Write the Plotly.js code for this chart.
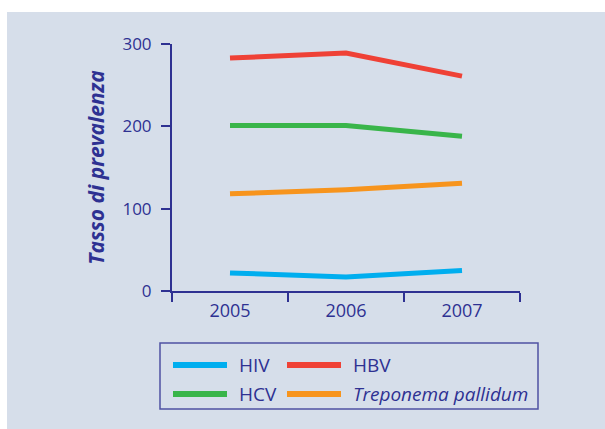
<!DOCTYPE html>
<html>
<head>
<meta charset="utf-8">
<script src="https://cdn.plot.ly/plotly-3.0.1.min.js"></script>
<style>html,body{margin:0;padding:0;background:#fff;}#chart{width:605px;height:429px;}</style>
</head>
<body>
<div id="chart"></div>
<script>
// ---- data ----
const years = ["2005", "2006", "2007"];
const seriesNames = ["HIV", "HBV", "HCV", "Treponema pallidum"];
const hiv = [22, 17, 25];
const hbv = [283, 289, 261];
const hcv = [201, 201, 188];
const treponema = [118, 123, 131];
const yTicks = [0, 100, 200, 300];
const colors = ["#00aeef", "#ef4136", "#39b54a", "#f7941d"];

const values = [hiv, hbv, hcv, treponema];
const navy = "#2e3192";
const font = "'Open Sans', 'Noto Sans', sans-serif";

// plot-area geometry (pixels)
const W = 605, H = 429, L = 172, R = 85, T = 44, B = 138;
const pw = W - L - R, ph = H - T - B;
const px = x => (x - L) / pw;
const py = y => (H - B - y) / ph;

const traces = values.map((v, i) => ({
  type: "scatter", mode: "lines", x: years, y: v, name: seriesNames[i],
  line: {color: colors[i], width: 5}, showlegend: false, hoverinfo: "x+y+name"
}));

const shapes = [
  {type: "rect", xref: "paper", yref: "paper", layer: "below",
   x0: px(7), x1: px(606), y0: py(430), y1: py(12),
   fillcolor: "#d6deea", line: {width: 0}},
  {type: "rect", xref: "paper", yref: "paper",
   x0: px(160), x1: px(538), y0: py(409), y1: py(343),
   fillcolor: "rgba(0,0,0,0)", line: {color: "#4f52a3", width: 1.5}}
];
const annotations = [];
// custom legend: 2 columns x 2 rows, built from series names
const colX = [173, 287], rowY = [365, 394], keyLen = 54, textGap = 10;
seriesNames.forEach((name, i) => {
  const c = i % 2, r = Math.floor(i / 2);
  shapes.push({type: "line", xref: "paper", yref: "paper",
    x0: px(colX[c]), x1: px(colX[c] + keyLen), y0: py(rowY[r]), y1: py(rowY[r]),
    line: {color: colors[i], width: 6}});
  annotations.push({xref: "paper", yref: "paper", x: px(colX[c] + keyLen + textGap),
    y: py(rowY[r]), xanchor: "left", yanchor: "middle", showarrow: false,
    text: i === 3 ? "<i>" + name + "</i>" : name,
    font: {family: font, size: 19, color: navy}});
});

const layout = {
  width: W, height: H,
  margin: {l: L, r: R, t: T, b: B, pad: 0},
  paper_bgcolor: "#ffffff", plot_bgcolor: "rgba(0,0,0,0)",
  showlegend: false,
  font: {family: font, color: navy},
  xaxis: {
    type: "category", range: [-0.5, 2.5], tickson: "boundaries",
    ticks: "outside", ticklen: 9, tickwidth: 2, tickcolor: navy,
    showline: true, linecolor: navy, linewidth: 2, showgrid: false, zeroline: false,
    tickfont: {family: font, size: 18, color: navy}, ticklabelstandoff: 2,
    fixedrange: true
  },
  yaxis: {
    range: [0, 300], tickvals: yTicks, ticktext: yTicks.map(String),
    ticks: "outside", ticklen: 9, tickwidth: 2, tickcolor: navy,
    showline: true, linecolor: navy, linewidth: 2, showgrid: false, zeroline: false,
    tickfont: {family: font, size: 17, color: navy}, ticklabelstandoff: 6,
    title: {text: "Tasso di prevalenza", standoff: 12,
      font: {family: font, size: 21, color: navy, style: "italic", weight: "bold"}},
    fixedrange: true
  },
  shapes: shapes, annotations: annotations
};

Plotly.newPlot("chart", traces, layout, {displayModeBar: false, staticPlot: true});
</script>
</body>
</html>
